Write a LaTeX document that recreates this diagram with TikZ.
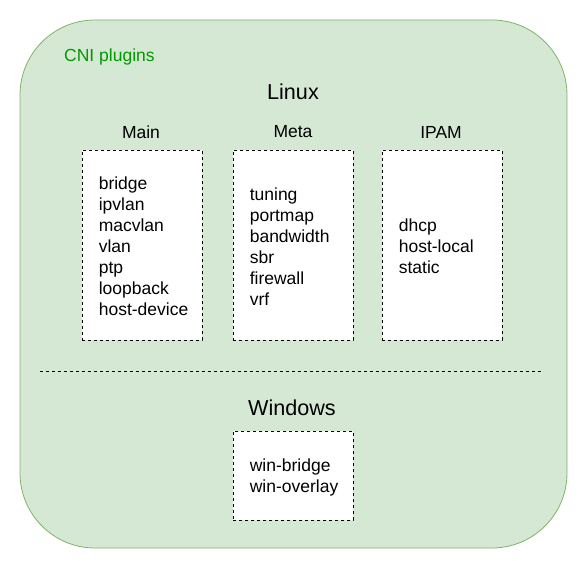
\documentclass[tikz,border=0pt]{standalone}
\usepackage{fontspec}
\setmainfont{Liberation Sans}
\definecolor{grfill}{HTML}{D5E8D4}
\definecolor{grline}{HTML}{82B366}
\definecolor{grtext}{HTML}{009900}
\begin{document}
\begin{tikzpicture}[x=1pt,y=-1pt,
  plugbox/.style={draw=black,fill=white,dash pattern=on 3pt off 3pt,line width=0.8pt,minimum width=120pt,inner sep=0pt},
  plist/.style={anchor=west,align=left,inner sep=0pt,font=\fontsize{17.5}{21}\selectfont},
  cat/.style={font=\fontsize{17.5}{21}\selectfont},
  os/.style={font=\fontsize{21.6}{26}\selectfont}]
\useasboundingbox (0,0) rectangle (584,561);
\node[draw=grline,fill=grfill,line width=0.8pt,rounded corners=75pt,minimum width=547pt,minimum height=528pt,inner sep=0pt] (outer) at (293.5,284) {};
\node[anchor=west,inner sep=0pt,text=grtext,font=\fontsize{17.5}{21}\selectfont] (cni) at (64,57) {CNI plugins};
\node[os] (linux) at (293,92) {Linux};
\node[cat] (main) at (141,132) {Main};
\node[cat] (meta) at (293,132) {Meta};
\node[cat] (ipam) at (441,132) {IPAM};
\node[plugbox,minimum height=190pt] (mainbox) at (142,245) {};
\node[plugbox,minimum height=190pt] (metabox) at (293,245) {};
\node[plugbox,minimum height=190pt] (ipambox) at (442,245) {};
\node[plist] (maint) at ([xshift=17pt,yshift=-1pt]mainbox.west) {bridge\\ipvlan\\macvlan\\vlan\\ptp\\loopback\\host-device};
\node[plist] (metat) at ([xshift=17pt,yshift=-2pt]metabox.west) {tuning\\portmap\\bandwidth\\sbr\\firewall\\vrf};
\node[plist] (ipamt) at ([xshift=17pt,yshift=-1pt]ipambox.west) {dhcp\\host-local\\static};
\coordinate (sepl) at (40,371);
\coordinate (sepr) at (541,371);
\draw[dash pattern=on 3pt off 3pt,line width=0.8pt] (sepl) -- (sepr);
\node[os] (windows) at (292,408) {Windows};
\node[plugbox,minimum height=89pt] (winbox) at (293,475.5) {};
\node[plist] (wint) at ([xshift=17pt,yshift=-2pt]winbox.west) {win-bridge\\win-overlay};
\end{tikzpicture}
\end{document}
